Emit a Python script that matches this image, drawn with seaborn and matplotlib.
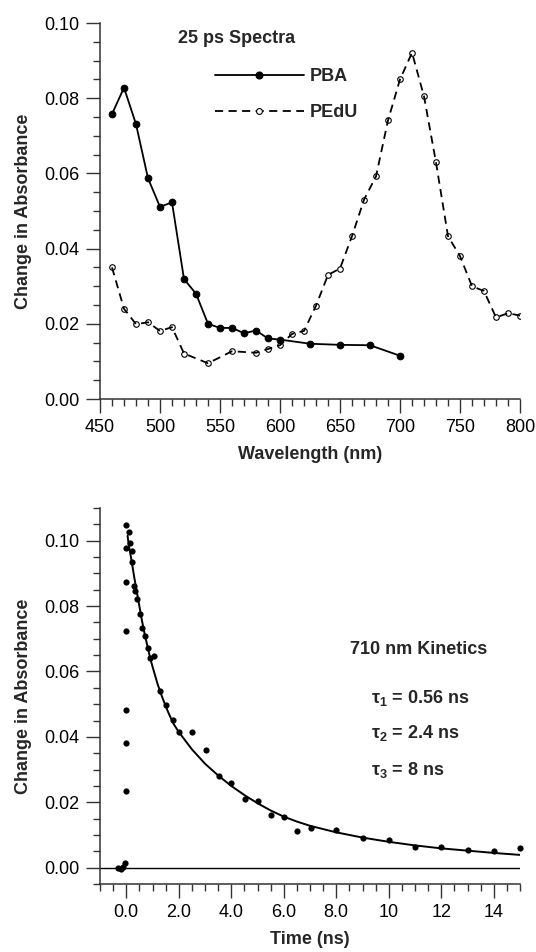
import numpy as np
import pandas as pd
import matplotlib
matplotlib.use("Agg")
import matplotlib.pyplot as plt
from matplotlib.ticker import MultipleLocator, FixedLocator, FixedFormatter, FormatStrFormatter
from matplotlib.lines import Line2D
import seaborn as sns

# ---------------- data ----------------
pba_wl = [460, 470, 480, 490, 500, 510, 520, 530, 540, 550, 560, 570, 580, 590, 600, 625, 650, 675, 700]
pba_abs = [0.0758, 0.0828, 0.0731, 0.0587, 0.0511, 0.0523, 0.0319, 0.0280, 0.0200, 0.0189, 0.0189,
           0.0175, 0.0182, 0.0161, 0.0158, 0.0147, 0.0144, 0.0143, 0.0115]

pedu_wl = [460, 470, 480, 490, 500, 510, 520, 540, 560, 580, 590, 600, 610, 620, 630, 640, 650, 660,
           670, 680, 690, 700, 710, 720, 730, 740, 750, 760, 770, 780, 790, 800]
pedu_abs = [0.0350, 0.0240, 0.0199, 0.0204, 0.0181, 0.0191, 0.0121, 0.0095, 0.0127, 0.0123, 0.0133,
            0.0143, 0.0173, 0.0181, 0.0248, 0.0330, 0.0347, 0.0433, 0.0530, 0.0592, 0.0741, 0.0850,
            0.0921, 0.0805, 0.0629, 0.0433, 0.0380, 0.0300, 0.0287, 0.0217, 0.0228, 0.0222]

kin_t = [-0.30, -0.21, -0.13, -0.05, 0.0, 0.0, 0.0, 0.0, 0.0, 0.0, 0.0, 0.09, 0.14, 0.20, 0.23, 0.28,
         0.33, 0.42, 0.52, 0.61, 0.71, 0.82, 0.91, 1.04, 1.28, 1.53, 1.78, 2.02, 2.51, 3.02, 3.54, 4.00,
         4.52, 5.03, 5.52, 6.01, 6.52, 7.02, 8.0, 9.0, 10.0, 11.0, 12.0, 13.0, 14.0, 15.0]
kin_abs = [0.0000, -0.0005, 0.0003, 0.0013, 0.0233, 0.0382, 0.0482, 0.0723, 0.0874, 0.0977, 0.1047,
           0.1026, 0.0993, 0.0970, 0.0936, 0.0862, 0.0847, 0.0821, 0.0777, 0.0733, 0.0708, 0.0672,
           0.0641, 0.0647, 0.0539, 0.0498, 0.0453, 0.0414, 0.0416, 0.0359, 0.0279, 0.0260, 0.0211,
           0.0204, 0.0160, 0.0155, 0.0112, 0.0122, 0.0115, 0.0092, 0.0085, 0.0062, 0.0062, 0.0055,
           0.0051, 0.0060]

fit_t = [0.05, 0.1, 0.2, 0.3, 0.4, 0.5, 0.6, 0.7, 0.8, 0.9, 1.0, 1.2, 1.4, 1.6, 1.8, 2.0, 2.5, 3.0,
         3.5, 4.0, 4.5, 5.0, 5.5, 6.0, 6.5, 7.0, 8.0, 9.0, 10.0, 11.0, 12.0, 13.0, 14.0, 15.0]
fit_abs = [0.1015, 0.0985, 0.0940, 0.0890, 0.0845, 0.0800, 0.0755, 0.0715, 0.0680, 0.0645, 0.0615,
           0.0560, 0.0515, 0.0475, 0.0440, 0.0415, 0.0362, 0.0318, 0.0282, 0.0250, 0.0222, 0.0197,
           0.0175, 0.0156, 0.0141, 0.0128, 0.0108, 0.0092, 0.0079, 0.0068, 0.0059, 0.0052, 0.0045,
           0.0039]

time_ticks = [0, 2, 4, 6, 8, 10, 12, 14]
time_labels = ["0.0", "2.0", "4.0", "6.0", "8.0", "10", "12", "14"]

pba = pd.DataFrame({"wl": pba_wl, "abs": pba_abs})
pedu = pd.DataFrame({"wl": pedu_wl, "abs": pedu_abs})
kin = pd.DataFrame({"t": kin_t, "abs": kin_abs})
fit = pd.DataFrame({"t": fit_t, "abs": fit_abs})

# ---------------- style ----------------
sns.set_theme(style="ticks")
FAM = ["Liberation Sans", "DejaVu Sans"]
plt.rcParams["font.family"] = FAM
plt.rcParams["mathtext.fontset"] = "custom"
plt.rcParams["mathtext.rm"] = "Liberation Sans:bold"
plt.rcParams["mathtext.bf"] = "Liberation Sans:bold"
plt.rcParams["mathtext.it"] = "Liberation Sans:bold"

FS = 13
AX_COL = "#333333"

W, H = 536, 952
fig = plt.figure(figsize=(W / 100, H / 100), dpi=100)
ax1 = fig.add_axes([100 / W, 1 - 399 / H, 420 / W, 376 / H])
ax2 = fig.add_axes([100 / W, 1 - 884 / H, 420 / W, 376 / H])


def style_axes(ax):
    for s in ["top", "right"]:
        ax.spines[s].set_visible(False)
    for s in ["left", "bottom"]:
        ax.spines[s].set_linewidth(1.1)
        ax.spines[s].set_color(AX_COL)
    ax.tick_params(which="major", length=10, width=1.0, color=AX_COL, labelsize=FS,
                   pad=4.5, labelcolor="black", direction="out")
    ax.tick_params(which="minor", length=5, width=1.0, color=AX_COL, direction="out")
    ax.set_facecolor("white")
    ax.grid(False)


# ---------------- top: spectra ----------------
sns.lineplot(data=pba, x="wl", y="abs", ax=ax1, color="black", lw=1.3, zorder=3,
             marker="o", markersize=4.8, markerfacecolor="black", markeredgecolor="black",
             sort=False)
sns.scatterplot(data=pedu, x="wl", y="abs", ax=ax1, s=16, facecolor="white",
                edgecolor="black", linewidth=0.8, zorder=2)
sns.lineplot(data=pedu, x="wl", y="abs", ax=ax1, color="black", lw=1.3, zorder=3,
             linestyle=(0, (4.5, 3.0)), sort=False)

ax1.set_xlim(450, 800)
ax1.set_ylim(0, 0.10)
ax1.xaxis.set_major_locator(MultipleLocator(50))
ax1.xaxis.set_minor_locator(MultipleLocator(10))
ax1.yaxis.set_major_locator(MultipleLocator(0.02))
ax1.yaxis.set_minor_locator(MultipleLocator(0.005))
ax1.yaxis.set_major_formatter(FormatStrFormatter("%.2f"))
style_axes(ax1)
ax1.set_xlabel("Wavelength (nm)", fontsize=FS, fontweight="bold", labelpad=7)
ax1.set_ylabel("Change in Absorbance", fontsize=FS, fontweight="bold", labelpad=9)

ax1.text(0.186, 0.947, "25 ps Spectra", transform=ax1.transAxes, fontsize=FS,
         fontweight="bold", ha="left", va="baseline")

handles = [
    Line2D([], [], color="black", lw=1.3, marker="o", markersize=4.8,
           markerfacecolor="black", markeredgecolor="black"),
    Line2D([], [], color="black", lw=1.3, linestyle=(0, (4.5, 3.0)), marker="o",
           markersize=4.2, markerfacecolor="white", markeredgecolor="black", markeredgewidth=0.8),
]
ax1.legend(handles, ["PBA", "PEdU"], loc="center left", bbox_to_anchor=(0.274, 0.81),
           frameon=False, handlelength=4.9, handletextpad=0.35, labelspacing=1.05,
           borderpad=0, borderaxespad=0, numpoints=1,
           prop={"family": FAM, "weight": "bold", "size": FS})

# ---------------- bottom: kinetics ----------------
ax2.axhline(0, color="black", lw=1.0, zorder=1)
sns.lineplot(data=fit, x="t", y="abs", ax=ax2, color="black", lw=1.4, zorder=3, sort=False)
sns.scatterplot(data=kin, x="t", y="abs", ax=ax2, s=20, color="black", edgecolor="black",
                linewidth=0, zorder=4, clip_on=False)

ax2.set_xlim(-1, 15)
ax2.set_ylim(-0.005, 0.11)
ax2.xaxis.set_major_locator(FixedLocator(time_ticks))
ax2.xaxis.set_major_formatter(FixedFormatter(time_labels))
ax2.xaxis.set_minor_locator(MultipleLocator(0.5))
ax2.yaxis.set_major_locator(FixedLocator([0.0, 0.02, 0.04, 0.06, 0.08, 0.10]))
ax2.yaxis.set_minor_locator(MultipleLocator(0.005))
ax2.yaxis.set_major_formatter(FormatStrFormatter("%.2f"))
style_axes(ax2)
ax2.set_xlabel("Time (ns)", fontsize=FS, fontweight="bold", labelpad=7)
ax2.set_ylabel("Change in Absorbance", fontsize=FS, fontweight="bold", labelpad=9)

ax2.text(0.595, 0.612, "710 nm Kinetics", transform=ax2.transAxes, fontsize=FS,
         fontweight="bold", ha="left", va="baseline")
for lab, yb in [(r"τ$_\mathbf{1}$ = 0.56 ns", 0.481),
                (r"τ$_\mathbf{2}$ = 2.4 ns", 0.388),
                (r"τ$_\mathbf{3}$ = 8 ns", 0.290)]:
    ax2.text(0.645, yb, lab, transform=ax2.transAxes, fontsize=FS, fontweight="bold",
             ha="left", va="baseline")

fig.savefig("out.png", dpi=100, facecolor="white")
